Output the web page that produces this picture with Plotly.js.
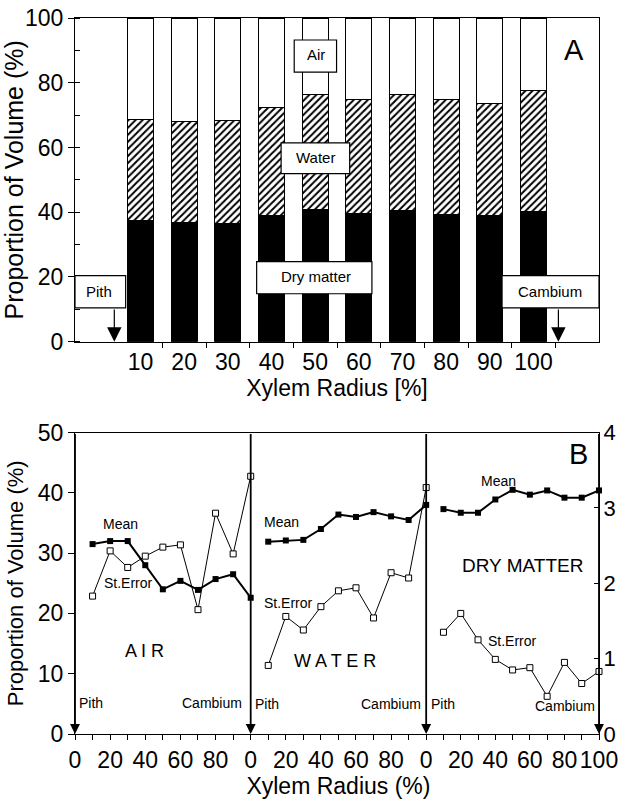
<!DOCTYPE html>
<html>
<head>
<meta charset="utf-8">
<script src="https://cdn.plot.ly/plotly-3.0.1.min.js"></script>
<style>
html,body{margin:0;padding:0;background:#fff;}
#chart{width:618px;height:799px;}
</style>
</head>
<body>
<div id="chart"></div>
<script>
// ---------- Panel A: stacked bars (proportion of volume, %) ----------
const radiusA = [10, 20, 30, 40, 50, 60, 70, 80, 90, 100];
const dryMatterA = [37.3, 36.8, 36.6, 38.9, 40.7, 39.7, 40.5, 39.2, 39.1, 40.3];
const waterA = [31.3, 31.3, 31.8, 33.5, 35.6, 35.2, 35.8, 35.5, 34.6, 37.4];
const airA = [31.4, 31.9, 31.6, 27.6, 23.7, 25.1, 23.7, 25.3, 26.3, 22.3];
const tickLabelsA = ['10', '20', '30', '40', '50', '60', '70', '80', '90', '100'];

// ---------- Panel B: mean (left axis, %) and standard error (right axis) ----------
const radiusB = [10, 20, 30, 40, 50, 60, 70, 80, 90, 100];
const airMean = [31.5, 32.0, 32.0, 28.0, 24.0, 25.4, 23.9, 25.7, 26.5, 22.6];
const airStErr = [1.83, 2.43, 2.21, 2.36, 2.48, 2.51, 1.65, 2.93, 2.39, 3.42];
const waterMean = [31.9, 32.1, 32.2, 34.0, 36.4, 36.0, 36.8, 36.1, 35.5, 38.0];
const waterStErr = [0.91, 1.56, 1.38, 1.69, 1.90, 1.94, 1.54, 2.14, 2.07, 3.27];
const dryMean = [37.3, 36.7, 36.7, 38.9, 40.5, 39.7, 40.4, 39.2, 39.2, 40.4];
const dryStErr = [1.35, 1.60, 1.25, 0.99, 0.85, 0.88, 0.50, 0.95, 0.67, 0.83];
const tickValsB = [0, 10, 20, 30, 40, 50, 60, 70, 80, 90];
const tickTextB = ['0', '', '20', '', '40', '', '60', '', '80', ''];
const tickValsBLast = [0, 10, 20, 30, 40, 50, 60, 70, 80, 90, 100];
const tickTextBLast = ['0', '', '20', '', '40', '', '60', '', '80', '', '100'];

const FONT = 'Liberation Sans, Arial, Helvetica, sans-serif';
const barWidth = 6;

const traces = [
  {type: 'bar', name: 'Dry matter', x: radiusA, y: dryMatterA, width: barWidth,
   xaxis: 'x', yaxis: 'y',
   marker: {color: 'black', line: {color: 'black', width: 1}}},
  {type: 'bar', name: 'Water', x: radiusA, y: waterA, width: barWidth,
   xaxis: 'x', yaxis: 'y',
   marker: {color: 'white', line: {color: 'black', width: 1},
            pattern: {shape: '/', fgcolor: 'black', bgcolor: 'white', size: 5, solidity: 0.4, fillmode: 'replace'}}},
  {type: 'bar', name: 'Air', x: radiusA, y: airA, width: barWidth,
   xaxis: 'x', yaxis: 'y',
   marker: {color: 'white', line: {color: 'black', width: 1}}}
];

function meanTrace(x, y, xa) {
  return {type: 'scatter', mode: 'lines+markers', x: x, y: y, xaxis: xa, yaxis: 'y2',
    cliponaxis: false,
    line: {color: 'black', width: 2},
    marker: {symbol: 'square', size: 6, color: 'black'}};
}
function seTrace(x, y, xa) {
  return {type: 'scatter', mode: 'lines+markers', x: x, y: y, xaxis: xa, yaxis: 'y3',
    cliponaxis: false,
    line: {color: 'black', width: 1},
    marker: {symbol: 'square', size: 6, color: 'white', line: {color: 'black', width: 1}}};
}
traces.push(meanTrace(radiusB, airMean, 'x2'));
traces.push(seTrace(radiusB, airStErr, 'x2'));
traces.push(meanTrace(radiusB, waterMean, 'x3'));
traces.push(seTrace(radiusB, waterStErr, 'x3'));
traces.push(meanTrace(radiusB, dryMean, 'x4'));
traces.push(seTrace(radiusB, dryStErr, 'x4'));

const axisBase = {showline: true, linecolor: 'black', linewidth: 1, showgrid: false, zeroline: false,
  tickcolor: 'black', tickfont: {family: FONT, size: 23, color: 'black'}};

const boxesA = [
  {x0: -5, x1: 6.6, y0: 10.4, y1: 20.4, text: 'Pith', tx: 0.6, ty: 15.4},
  {x0: 92.8, x1: 115, y0: 10.4, y1: 20.4, text: 'Cambium', tx: 103.8, ty: 15.6},
  {x0: 45.2, x1: 54.9, y0: 83.3, y1: 93.2, text: 'Air', tx: 50.1, ty: 88.6},
  {x0: 42.2, x1: 57.9, y0: 51.9, y1: 61.4, text: 'Water', tx: 50.1, ty: 56.9},
  {x0: 36.6, x1: 63.0, y0: 14.8, y1: 24.7, text: 'Dry matter', tx: 50.3, ty: 20.0}
];
const shapes = boxesA.map(b => ({type: 'rect', xref: 'x', yref: 'y', x0: b.x0, x1: b.x1, y0: b.y0, y1: b.y1,
  fillcolor: 'white', line: {color: 'black', width: 1.2}, layer: 'above'}));

const annotations = boxesA.map(b => ({xref: 'x', yref: 'y', x: b.tx, y: b.ty, text: b.text, showarrow: false,
  font: {family: FONT, size: 15, color: 'black'}}));

// Panel A arrows (Pith, Cambium)
[4, 105.7].forEach(xv => annotations.push({xref: 'x', yref: 'y', axref: 'x', ayref: 'y',
  x: xv, y: 0, ax: xv, ay: 10.4, text: '', showarrow: true, arrowhead: 2, arrowsize: 2.4, arrowwidth: 1.2, arrowcolor: 'black'}));
annotations.push({xref: 'x', yref: 'y', x: 109.3, y: 90, text: 'A', showarrow: false,
  font: {family: FONT, size: 29, color: 'black'}});

// Panel B divider arrows
[['x2', 0], ['x3', 0], ['x4', 0], ['x4', 100]].forEach(([xa, xv]) => annotations.push({
  xref: xa, yref: 'y2', axref: xa, ayref: 'y2', x: xv, y: 0, ax: xv, ay: 50, text: '',
  showarrow: true, arrowhead: 2, arrowsize: 1.1, arrowwidth: 1.8, arrowcolor: 'black'}));

function lab(xa, x, y, text, size, anchor) {
  annotations.push({xref: xa, yref: 'y2', x: x, y: y, text: text, showarrow: false,
    xanchor: anchor || 'center', font: {family: FONT, size: size, color: 'black'}});
}
// Air panel
lab('x2', 26, 34.8, 'Mean', 14);
lab('x2', 30.6, 25.1, 'St.Error', 14);
lab('x2', 39.6, 13.8, 'A I R', 18);
lab('x2', 1.3, 5.2, 'Pith', 14, 'left');
lab('x2', 96, 5.2, 'Cambium', 14, 'right');
// Water panel
lab('x3', 17.7, 35.1, 'Mean', 14);
lab('x3', 21.5, 21.7, 'St.Error', 14);
lab('x3', 48.1, 12.1, 'W A T E R', 18);
lab('x3', 1.5, 4.9, 'Pith', 14, 'left');
lab('x3', 98, 4.9, 'Cambium', 14, 'right');
// Dry matter panel
lab('x4', 41.9, 41.9, 'Mean', 14);
lab('x4', 55.9, 28.0, 'DRY MATTER', 19);
lab('x4', 50.1, 15.4, 'St.Error', 14);
lab('x4', 1.5, 4.9, 'Pith', 14, 'left');
lab('x4', 80.2, 4.7, 'Cambium', 14);
lab('x4', 88, 46.5, 'B', 29);

const layout = {
  width: 618, height: 799,
  margin: {l: 75, r: 19, t: 18, b: 65},
  paper_bgcolor: 'white', plot_bgcolor: 'white',
  showlegend: false,
  barmode: 'stack',
  font: {family: FONT, color: 'black'},
  xaxis: Object.assign({}, axisBase, {
    domain: [0, 1], anchor: 'y', range: [-5, 115], mirror: true,
    tickmode: 'array', tickvals: radiusA, ticktext: tickLabelsA, ticks: '',
    minor: {tickmode: 'array', tickvals: [15, 25, 35, 45, 55, 65, 75, 85, 95, 105], ticks: 'outside', ticklen: 5, tickcolor: 'black'},
    title: {text: 'Xylem Radius [%]', font: {family: FONT, size: 23, color: 'black'}, standoff: 4}
  }),
  yaxis: Object.assign({}, axisBase, {
    domain: [0.548, 1], anchor: 'x', range: [0, 100], mirror: true,
    tickmode: 'linear', tick0: 0, dtick: 20, ticks: 'outside', ticklen: 6,
    minor: {dtick: 10, ticks: 'inside', ticklen: 5, tickcolor: 'black'},
    title: {text: 'Proportion of Volume (%)', font: {family: FONT, size: 25, color: 'black'}, standoff: 4}
  }),
  xaxis2: Object.assign({}, axisBase, {
    domain: [0, 0.3353], anchor: 'y2', range: [0, 100], mirror: true,
    tickmode: 'array', tickvals: tickValsB, ticktext: tickTextB, ticks: 'outside', ticklen: 5
  }),
  xaxis3: Object.assign({}, axisBase, {
    domain: [0.3353, 0.6702], anchor: 'y2', range: [0, 100], mirror: true,
    tickmode: 'array', tickvals: tickValsB, ticktext: tickTextB, ticks: 'outside', ticklen: 5,
    title: {text: 'Xylem Radius (%)', font: {family: FONT, size: 23, color: 'black'}, standoff: 8}
  }),
  xaxis4: Object.assign({}, axisBase, {
    domain: [0.6702, 1], anchor: 'y2', range: [0, 100], mirror: true,
    tickmode: 'array', tickvals: tickValsBLast, ticktext: tickTextBLast, ticks: 'outside', ticklen: 5,
    ticklabeloverflow: 'allow'
  }),
  yaxis2: Object.assign({}, axisBase, {
    domain: [0, 0.421], anchor: 'x2', range: [0, 50],
    tickmode: 'linear', tick0: 0, dtick: 10, ticks: 'outside', ticklen: 6,
    title: {text: 'Proportion of Volume (%)', font: {family: FONT, size: 22, color: 'black'}, standoff: 8}
  }),
  yaxis3: Object.assign({}, axisBase, {
    overlaying: 'y2', anchor: 'x4', side: 'right', range: [0, 4],
    tickmode: 'linear', tick0: 0, dtick: 1, ticks: 'inside', ticklen: 5,
    ticklabelstandoff: -1,
    tickfont: {family: FONT, size: 22, color: 'black'}
  }),
  shapes: shapes,
  annotations: annotations
};

Plotly.newPlot('chart', traces, layout, {displayModeBar: false, staticPlot: true});
</script>
</body>
</html>
